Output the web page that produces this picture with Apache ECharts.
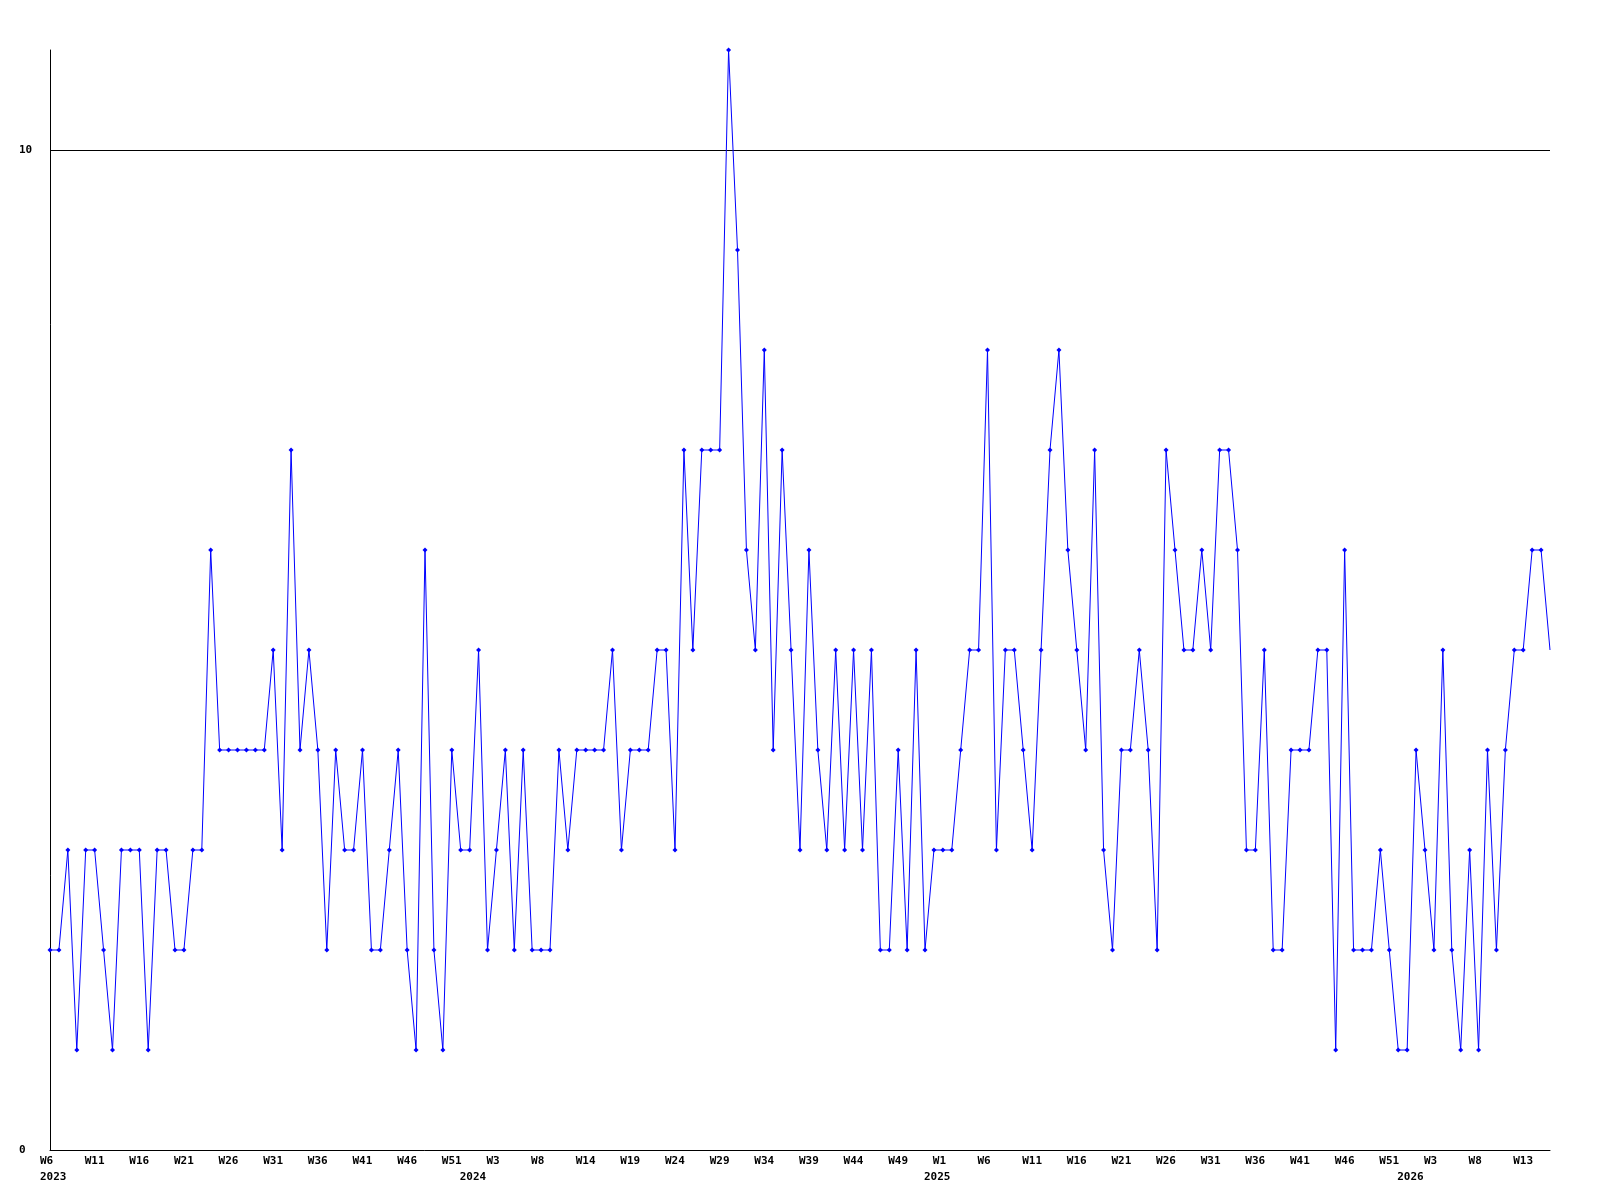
<!DOCTYPE html>
<html>
<head>
<meta charset="utf-8">
<script src="https://cdn.jsdelivr.net/npm/echarts@6/dist/echarts.min.js"></script>
<style>
  html, body { margin: 0; padding: 0; background: #ffffff; }
  #chart { width: 1600px; height: 1200px; }
</style>
</head>
<body>
<div id="chart"></div>
<script>
// Weekly counts, from 2023 W6 onward (one value per week)
const counts = [
  2,2,3,1,3,3,2,1,3,3,3,1,3,3,2,2,3,3,6,4,4,4,4,4,4,5,3,7,4,
  5,4,2,4,3,3,4,2,2,3,4,2,1,6,2,1,4,3,3,5,2,3,4,2,4,2,2,2,
  4,3,4,4,4,4,5,3,4,4,4,5,5,3,7,5,7,7,7,11,9,6,5,8,4,7,5,3,
  6,4,3,5,3,5,3,5,2,2,4,2,5,2,3,3,3,4,5,5,8,3,5,5,4,3,5,7,
  8,6,5,4,7,3,2,4,4,5,4,2,7,6,5,5,6,5,7,7,6,3,3,5,2,2,4,4,
  4,5,5,1,6,2,2,2,3,2,1,1,4,3,2,5,2,1,3,1,4,2,4,5,5,6,6,5
];
// Week tick labels, shown on every 5th week
const weekLabels = [
  'W6','W11','W16','W21','W26','W31','W36','W41','W46','W51',
  'W3','W8','W14','W19','W24','W29','W34','W39','W44','W49',
  'W1','W6','W11','W16','W21','W26','W31','W36','W41','W46',
  'W51','W3','W8','W13'
];
const weekLabelStep = 5;
// Year labels and the week index at which each year starts
const yearLabels = ['2023','2024','2025','2026'];
const yearStartIndex = [0, 47, 99, 152];
const yMin = 0, yMax = 11, yStep = 10;

const categories = counts.map((_, i) => String(i));
// the last (partial) week is drawn without a marker, as in the original
const seriesData = counts.map((v, i) => (i === counts.length - 1 ? { value: v, symbol: 'none' } : v));

const chart = echarts.init(document.getElementById('chart'), null, { renderer: 'canvas' });
const fontFamily = '"DejaVu Sans Mono", monospace';

chart.setOption({
  animation: false,
  backgroundColor: '#ffffff',
  grid: { left: 50, right: 50, top: 50, bottom: 50, containLabel: false },
  xAxis: [
    {
      type: 'category',
      data: categories,
      boundaryGap: false,
      position: 'bottom',
      axisLine: { show: true, lineStyle: { color: '#000000', width: 1 } },
      axisTick: { show: false },
      splitLine: { show: false },
      axisLabel: {
        interval: weekLabelStep - 1,
        formatter: (v, idx) => weekLabels[Math.round(idx / weekLabelStep)] || '',
        align: 'left',
        padding: [0, 0, 0, -10],
        margin: 6,
        color: '#000000',
        fontFamily: fontFamily,
        fontWeight: 'bold',
        fontSize: 11
      }
    },
    {
      type: 'category',
      data: categories,
      boundaryGap: false,
      position: 'bottom',
      axisLine: { show: false },
      axisTick: { show: false },
      splitLine: { show: false },
      axisLabel: {
        interval: (idx) => yearStartIndex.indexOf(idx) >= 0,
        formatter: (v, idx) => {
          const k = yearStartIndex.indexOf(idx);
          return k >= 0 ? yearLabels[k] : '';
        },
        align: 'left',
        padding: [0, 0, 0, -10],
        margin: 22,
        color: '#000000',
        fontFamily: fontFamily,
        fontWeight: 'bold',
        fontSize: 11
      }
    }
  ],
  yAxis: {
    type: 'value',
    min: yMin,
    max: yMax,
    interval: yStep,
    axisLine: { show: true, lineStyle: { color: '#000000', width: 1 } },
    axisTick: { show: false },
    splitLine: {
      show: true,
      showMinLine: false,
      showMaxLine: false,
      lineStyle: { color: '#000000', width: 1, type: 'solid' }
    },
    axisLabel: {
      showMaxLabel: false,
      formatter: (v) => (v % yStep === 0 ? String(v) : ''),
      align: 'left',
      margin: 31,
      color: '#000000',
      fontFamily: fontFamily,
      fontWeight: 'bold',
      fontSize: 11
    }
  },
  series: [
    {
      type: 'line',
      data: seriesData,
      xAxisIndex: 0,
      yAxisIndex: 0,
      symbol: 'diamond',
      symbolSize: 5,
      showAllSymbol: true,
      lineStyle: { color: '#0000ff', width: 1 },
      itemStyle: { color: '#0000ff', borderWidth: 0 },
      emphasis: { disabled: true },
      clip: true
    }
  ]
});
</script>
</body>
</html>
